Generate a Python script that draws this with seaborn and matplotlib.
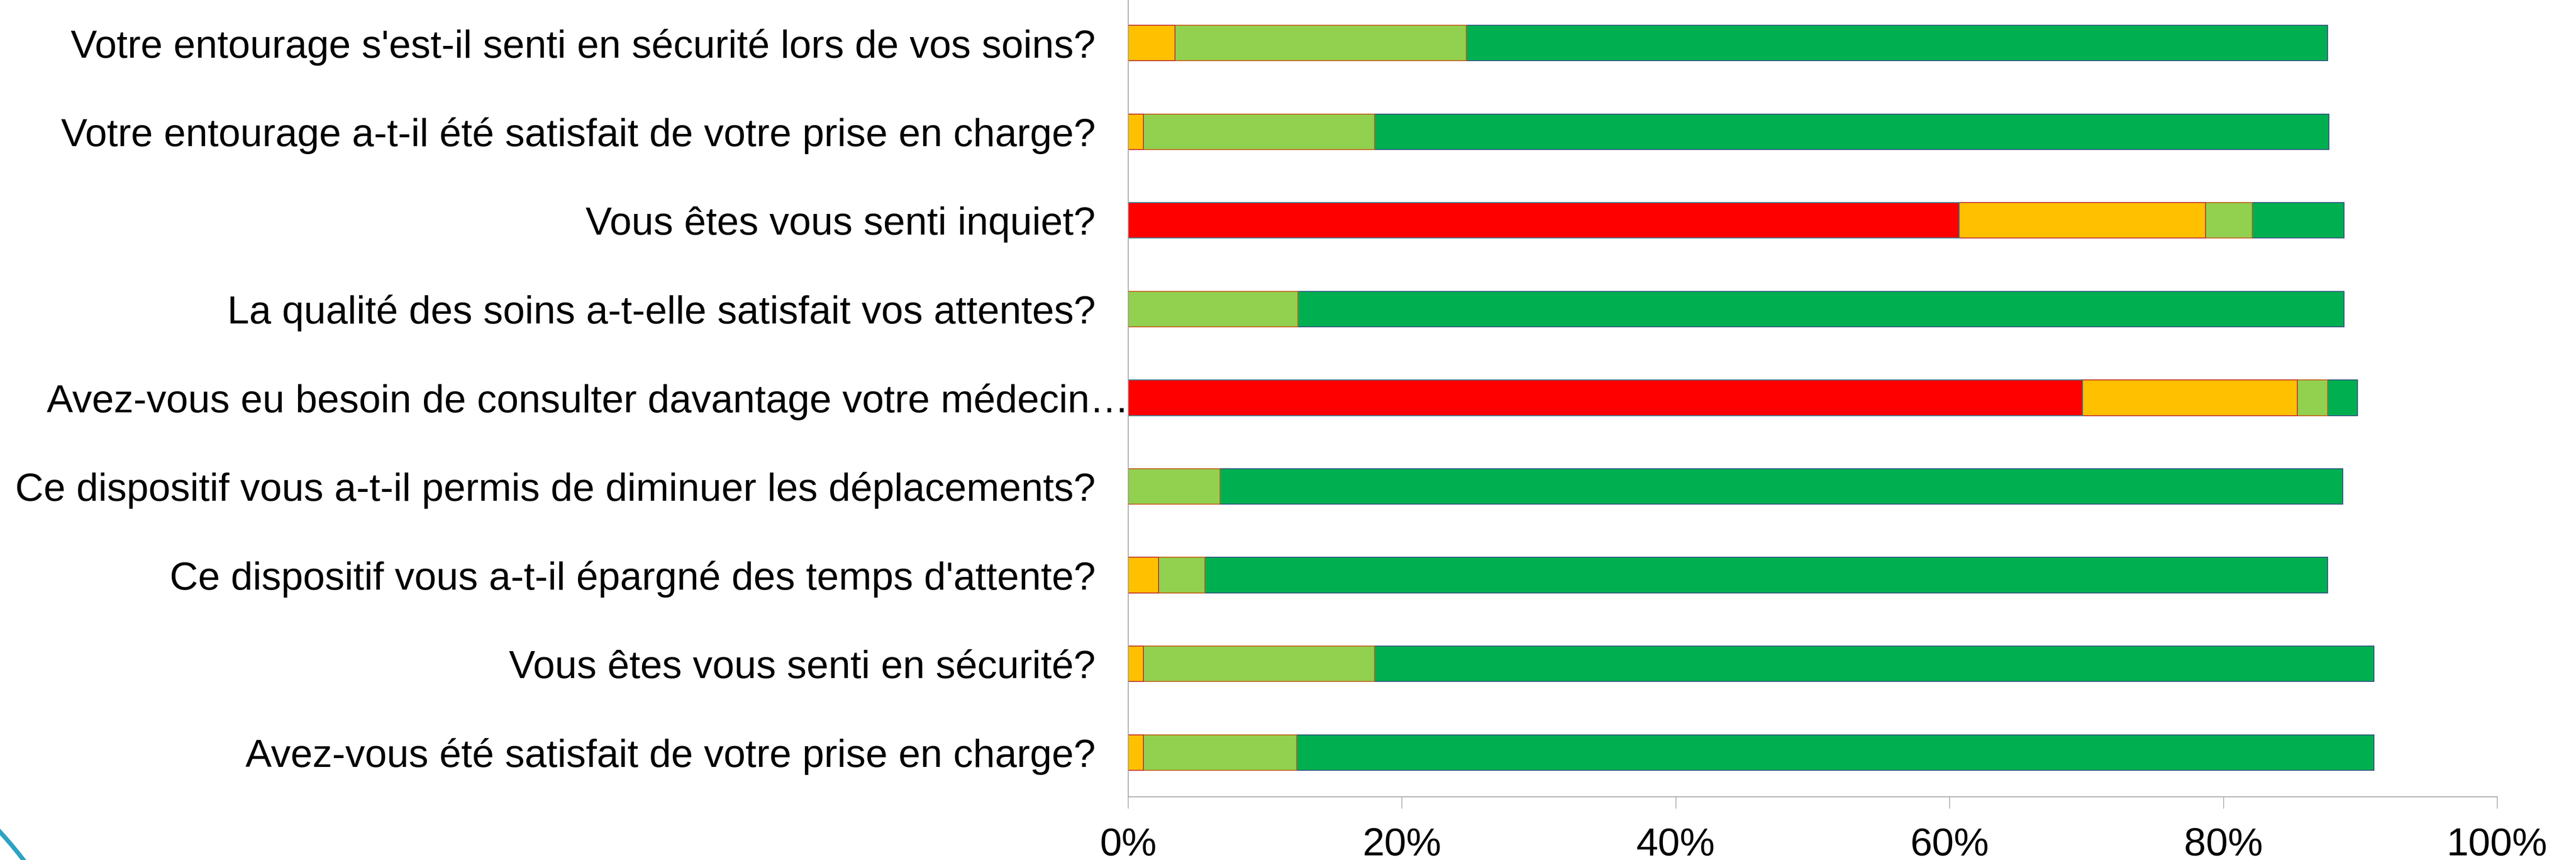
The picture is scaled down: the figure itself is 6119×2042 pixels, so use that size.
import numpy as np
import pandas as pd
import matplotlib
matplotlib.use("Agg")
import matplotlib.pyplot as plt
import matplotlib.transforms as mtransforms
from matplotlib.patches import Circle
from matplotlib.ticker import PercentFormatter
import seaborn as sns

# Questions, top to bottom
questions = [
    "Votre entourage s'est-il senti en sécurité lors de vos soins?",
    "Votre entourage a-t-il été satisfait de votre prise en charge?",
    "Vous êtes vous senti inquiet?",
    "La qualité des soins a-t-elle satisfait vos attentes?",
    "Avez-vous eu besoin de consulter davantage votre médecin…",
    "Ce dispositif vous a-t-il permis de diminuer les déplacements?",
    "Ce dispositif vous a-t-il épargné des temps d'attente?",
    "Vous êtes vous senti en sécurité?",
    "Avez-vous été satisfait de votre prise en charge?",
]

# Answer shares in % (red -> orange -> light green -> green)
red = [0, 0, 60.7, 0, 69.7, 0, 0, 0, 0]
orange = [3.4, 1.1, 18.0, 0, 15.7, 0, 2.2, 1.1, 1.1]
light_green = [21.3, 16.9, 3.4, 12.4, 2.2, 6.7, 3.4, 16.9, 11.2]
green = [62.9, 69.7, 6.7, 76.4, 2.2, 82.0, 82.0, 73.0, 78.7]

df = pd.DataFrame({"question": questions, "red": red, "orange": orange,
                   "light_green": light_green, "green": green})
df["c_red"] = df["red"]
df["c_orange"] = df["c_red"] + df["orange"]
df["c_lgreen"] = df["c_orange"] + df["light_green"]
df["c_green"] = df["c_lgreen"] + df["green"]

sns.set_theme(style="white")
plt.rcParams["font.family"] = ["Liberation Sans", "DejaVu Sans"]
plt.rcParams["text.color"] = "black"

W, H, DPI = 6119, 2042, 100
fig = plt.figure(figsize=(W / DPI, H / DPI), dpi=DPI)
ax = fig.add_axes([2680 / W, 1 - 1892 / H, (5932 - 2680) / W, 1895 / H])

# stacked bars drawn as overlapping cumulative bars, widest first
layers = [
    ("c_green", "#00B050", "#2E4F7E"),
    ("c_lgreen", "#92D050", "#C55A11"),
    ("c_orange", "#FFC000", "#C0282D"),
    ("c_red", "#FF0000", "#31849B"),
]
for col, fc, ec in layers:
    sns.barplot(data=df, x=col, y="question", orient="h", color=fc,
                saturation=1, width=0.4, edgecolor=ec, linewidth=1.5,
                ax=ax, errorbar=None)

ax.set_xlim(0, 100)
ax.set_ylim(8.5, -0.5)
ax.set_xticks(range(0, 101, 20))
ax.xaxis.set_major_formatter(PercentFormatter(decimals=0))
ax.set_xlabel("")
ax.set_ylabel("")

for side in ["top", "right"]:
    ax.spines[side].set_visible(False)
for side in ["left", "bottom"]:
    ax.spines[side].set_color("#A0A0A0")
    ax.spines[side].set_linewidth(1.5)

ax.tick_params(axis="x", which="major", direction="out", length=20, width=1.2,
               color="#A0A0A0", labelcolor="black", labelsize=67.3, pad=32,
               bottom=True)
ax.tick_params(axis="y", length=0, labelsize=67.3, labelcolor="black", pad=56)

# the long label overflows towards the axis in the original
for lbl in ax.get_yticklabels():
    if lbl.get_text().startswith("Avez-vous eu besoin"):
        lbl.set_transform(lbl.get_transform()
                          + mtransforms.ScaledTranslation(0.8, 0, fig.dpi_scale_trans))

# decorative arc in the bottom-left corner
arc = Circle((-738 / DPI, (H - 2650) / DPI), 1000 / DPI, transform=fig.dpi_scale_trans,
             fill=False, edgecolor="#2CA3C2", linewidth=7.5)
fig.add_artist(arc)

fig.savefig("out.png", dpi=DPI, facecolor="white")
